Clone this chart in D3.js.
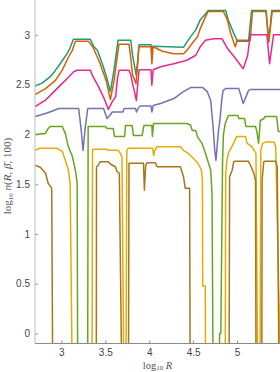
<!DOCTYPE html>
<html><head><meta charset="utf-8">
<script src="https://cdn.jsdelivr.net/npm/d3@7"></script>
<style>
html,body{margin:0;padding:0;background:#fff;}
svg{display:block;}
</style></head>
<body>
<svg id="chart" width="280" height="372"></svg>
<script>
const Z = -Infinity; // log10(0): curve leaves the plot downward

const xTicks = [3, 3.5, 4, 4.5, 5];
const yTicks = [0, 0.5, 1, 1.5, 2, 2.5, 3];
const colors = ["#1b9e77", "#d95f02", "#e7298a", "#7570b3", "#66a61e", "#e6ab02", "#a6761d"];

const teal = [[2.70,2.485],[2.78,2.515],[2.875,2.58],[2.93,2.64],[2.99,2.715],[3.065,2.81],[3.10,2.87],[3.137,2.955],[3.33,2.955],[3.37,2.88],[3.41,2.845],[3.478,2.68],[3.52,2.56],[3.558,2.43],[3.60,2.65],[3.645,2.945],[3.79,2.945],[3.81,2.80],[3.85,2.60],[3.872,2.76],[3.885,2.90],[4.02,2.90],[4.03,2.84],[4.04,2.885],[4.39,2.875],[4.43,2.93],[4.47,2.98],[4.53,3.05],[4.58,3.15],[4.64,3.21],[4.67,3.245],[4.87,3.245],[4.90,3.15],[4.96,3.02],[5.005,2.935],[5.13,2.935],[5.165,3.245],[5.33,3.245],[5.36,2.93],[5.395,3.245],[5.5,3.245]];

const orange = [[2.70,2.40],[2.76,2.43],[2.82,2.46],[2.875,2.50],[2.93,2.54],[3.01,2.645],[3.08,2.775],[3.125,2.845],[3.16,2.935],[3.31,2.935],[3.36,2.875],[3.44,2.715],[3.51,2.54],[3.558,2.35],[3.60,2.54],[3.655,2.905],[3.77,2.905],[3.79,2.77],[3.81,2.60],[3.85,2.51],[3.87,2.72],[3.88,2.88],[4.02,2.88],[4.03,2.71],[4.045,2.88],[4.15,2.835],[4.28,2.81],[4.39,2.81],[4.43,2.845],[4.49,2.915],[4.55,2.98],[4.58,3.06],[4.64,3.18],[4.67,3.235],[4.845,3.235],[4.89,3.15],[4.925,3.02],[4.98,2.88],[5.00,2.945],[5.15,2.945],[5.175,3.235],[5.33,3.235],[5.36,2.93],[5.40,3.235],[5.5,3.235]];

const pink = [[2.70,2.28],[2.82,2.345],[2.90,2.415],[2.99,2.495],[3.07,2.565],[3.14,2.63],[3.18,2.645],[3.33,2.645],[3.36,2.58],[3.42,2.485],[3.48,2.375],[3.535,2.25],[3.58,2.33],[3.618,2.38],[3.637,2.55],[3.657,2.645],[3.77,2.645],[3.79,2.60],[3.81,2.51],[3.83,2.44],[3.854,2.34],[3.877,2.58],[3.885,2.65],[4.02,2.65],[4.03,2.495],[4.045,2.65],[4.13,2.68],[4.28,2.71],[4.43,2.745],[4.53,2.795],[4.58,2.88],[4.64,2.945],[4.73,2.96],[4.83,2.96],[4.89,2.865],[4.98,2.765],[5.07,2.66],[5.12,2.79],[5.15,3.0],[5.34,3.0],[5.37,2.71],[5.415,3.0],[5.5,3.0]];

const purple = [[2.70,2.18],[2.82,2.21],[2.90,2.235],[2.97,2.26],[3.197,2.26],[3.225,2.05],[3.247,1.84],[3.27,2.05],[3.30,2.26],[3.48,2.26],[3.52,2.16],[3.56,2.20],[3.58,2.225],[3.70,2.225],[3.715,2.26],[3.845,2.26],[3.855,2.225],[3.88,2.27],[3.90,2.285],[4.02,2.285],[4.03,2.225],[4.045,2.29],[4.13,2.31],[4.28,2.36],[4.39,2.43],[4.47,2.47],[4.61,2.47],[4.66,2.43],[4.70,2.34],[4.725,2.10],[4.745,1.85],[4.76,1.74],[4.775,1.90],[4.79,2.05],[4.805,2.14],[4.825,2.34],[4.84,2.44],[4.87,2.46],[5.02,2.46],[5.07,2.31],[5.13,2.44],[5.15,2.45],[5.5,2.45]];

const green = [[2.70,2.00],[2.82,2.01],[2.85,2.06],[2.875,2.08],[3.01,2.08],[3.045,2.01],[3.08,1.875],[3.125,1.78],[3.16,1.64],[3.18,1.51],[3.185,Z],[3.30,Z],[3.305,2.08],[3.50,2.08],[3.52,2.06],[3.59,2.06],[3.605,1.98],[3.72,1.98],[3.73,2.09],[3.805,2.09],[3.82,1.99],[3.92,1.99],[3.94,2.09],[4.03,2.09],[4.036,1.98],[4.05,2.11],[4.43,2.11],[4.47,2.095],[4.49,2.04],[4.53,2.04],[4.55,1.975],[4.60,1.91],[4.64,1.81],[4.70,1.64],[4.715,1.40],[4.725,Z],[4.80,Z],[4.801,0],[4.815,0],[4.835,1.74],[4.845,2.0],[4.866,2.11],[4.90,2.19],[5.01,2.19],[5.02,2.16],[5.085,2.16],[5.10,2.08],[5.21,2.08],[5.225,2.03],[5.245,1.91],[5.265,2.14],[5.305,2.16],[5.32,2.18],[5.45,2.18],[5.47,2.03],[5.5,2.03]];

const yellow = [[2.70,1.84],[2.75,1.86],[2.95,1.86],[3.01,1.83],[3.045,1.74],[3.08,1.64],[3.10,1.51],[3.12,Z],[3.35,Z],[3.355,1.85],[3.52,1.85],[3.53,1.84],[3.645,1.84],[3.672,1.81],[3.69,1.775],[3.708,Z],[3.737,Z],[3.745,1.84],[3.76,1.86],[4.04,1.86],[4.05,1.79],[4.06,1.83],[4.085,1.875],[4.355,1.875],[4.39,1.84],[4.445,1.81],[4.50,1.76],[4.555,1.71],[4.595,1.64],[4.606,1.52],[4.609,0.477],[4.638,0.477],[4.64,Z],[4.866,Z],[4.87,1.60],[4.885,1.74],[4.90,1.81],[4.96,1.91],[4.995,1.98],[5.096,1.98],[5.115,1.91],[5.17,1.875],[5.215,1.81],[5.232,Z],[5.262,Z],[5.27,1.84],[5.29,1.91],[5.33,1.925],[5.42,1.925],[5.44,1.875],[5.488,Z],[5.5,Z]];

const brown = [[2.70,1.69],[2.76,1.67],[2.82,1.61],[2.85,1.51],[2.89,1.46],[2.90,Z],[3.398,Z],[3.40,1.675],[3.42,1.69],[3.44,1.725],[3.535,1.725],[3.56,1.70],[3.615,1.675],[3.635,1.625],[3.66,1.61],[3.683,Z],[3.765,Z],[3.77,1.71],[3.935,1.71],[3.945,1.44],[3.96,1.69],[3.975,1.715],[4.07,1.715],[4.09,1.675],[4.355,1.675],[4.39,1.575],[4.41,1.46],[4.46,1.46],[4.465,Z],[4.91,Z],[4.915,1.575],[4.944,1.64],[4.962,1.725],[4.98,1.73],[5.13,1.73],[5.153,1.69],[5.19,1.61],[5.21,1.54],[5.215,Z],[5.282,Z],[5.285,1.54],[5.304,1.725],[5.32,1.73],[5.44,1.73],[5.457,1.675],[5.475,Z],[5.5,Z]];

const series = [teal, orange, pink, purple, green, yellow, brown];

const svg = d3.select("#chart");
const L = 35, R = 281, T = 0, B = 343.5;
const x = d3.scaleLinear().domain([2.7, 5.5]).range([L, R]);
const y = d3.scaleLinear().domain([-0.1, 3.35]).range([B, T]);

svg.append("defs").append("clipPath").attr("id", "clip")
  .append("rect").attr("x", L).attr("y", T).attr("width", R - L).attr("height", B - T);

const line = d3.line()
  .x(d => x(d[0]))
  .y(d => isFinite(d[1]) ? y(d[1]) : B + 2);

const g = svg.append("g").attr("clip-path", "url(#clip)");
series.forEach((s, i) => {
  g.append("path").datum(s)
    .attr("d", line)
    .attr("fill", "none")
    .attr("stroke", colors[i])
    .attr("stroke-width", 1.5)
    .attr("stroke-linejoin", "round");
});

// axes
const tickFont = "'Liberation Sans', Arial, sans-serif";
const yAxis = svg.append("g").attr("transform", `translate(${L},0)`)
  .call(d3.axisLeft(y).tickValues(yTicks).tickFormat(d3.format("~g")).tickSizeInner(-3).tickSizeOuter(0).tickPadding(5));
yAxis.select(".domain").remove();
yAxis.selectAll("line").attr("stroke", "#999");
yAxis.selectAll("text").attr("fill", "#444").style("font-family", tickFont).style("font-size", "10px");
svg.append("line").attr("x1", L).attr("x2", L).attr("y1", T).attr("y2", B)
  .attr("stroke", "#bdbdbd").attr("stroke-width", 1);

const xAxis = svg.append("g").attr("transform", `translate(0,${B})`)
  .call(d3.axisBottom(x).tickValues(xTicks).tickFormat(d3.format("~g")).tickSizeInner(-3).tickSizeOuter(0).tickPadding(5));
xAxis.select(".domain").remove();
xAxis.selectAll("line").attr("stroke", "#888");
xAxis.selectAll("text").attr("fill", "#444").style("font-family", tickFont).style("font-size", "10px");
svg.append("line").attr("x1", L).attr("x2", 280).attr("y1", B).attr("y2", B)
  .attr("stroke", "#8a8a8a").attr("stroke-width", 1);

// axis labels
const serif = "'Liberation Serif', 'Times New Roman', serif";
const xl = svg.append("text").attr("x", (L + 280) / 2).attr("y", 368.5)
  .attr("text-anchor", "middle").attr("fill", "#555")
  .style("font-family", serif).style("font-size", "10.5px");
xl.append("tspan").text("log");
xl.append("tspan").attr("font-size", "7px").attr("dy", 1.5).text("10");
xl.append("tspan").attr("dy", -1.5).text(" ");
xl.append("tspan").attr("font-style", "italic").text("R");

const yl = svg.append("text").attr("transform", "translate(11,176) rotate(-90)")
  .attr("text-anchor", "middle").attr("fill", "#555")
  .style("font-family", serif).style("font-size", "11px");
yl.append("tspan").text("log");
yl.append("tspan").attr("font-size", "7px").attr("dy", 2).text("10");
yl.append("tspan").attr("dy", -2).text(" ");
yl.append("tspan").attr("font-style", "italic").text("n");
yl.append("tspan").text("(");
yl.append("tspan").attr("font-style", "italic").text("R");
yl.append("tspan").text(", ");
yl.append("tspan").attr("font-style", "italic").text("β\u0304");
yl.append("tspan").text(", 100)");
</script>
</body></html>
